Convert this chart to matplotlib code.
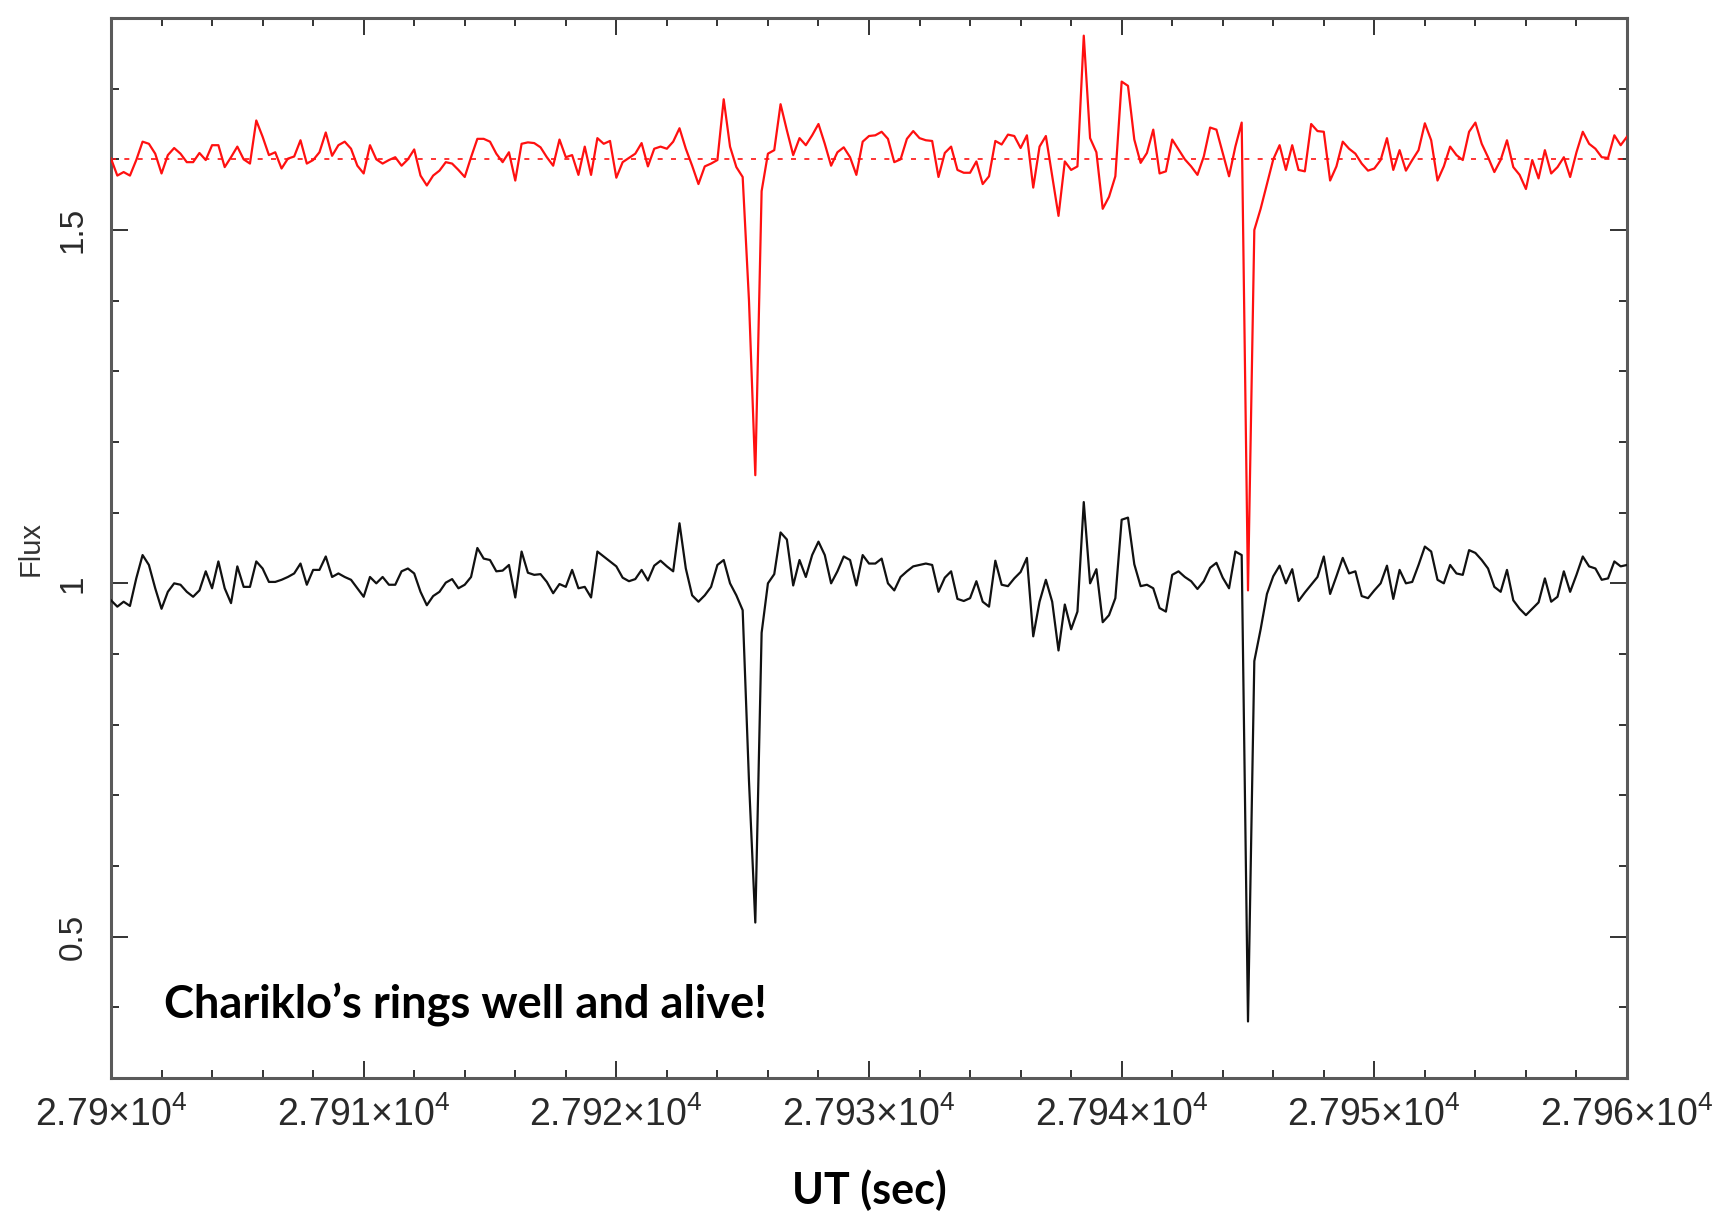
import numpy as np
import matplotlib
matplotlib.use("Agg")
import matplotlib.pyplot as plt
from matplotlib.ticker import MultipleLocator, FuncFormatter

# ---------------- data ----------------
t_start = 27900.0      # UT (s) of first sample
cadence = 0.25         # s between samples

flux_black = [
    0.976, 0.967, 0.974, 0.968, 1.007, 1.040, 1.026, 0.993, 0.964, 0.988,
    1.000, 0.998, 0.988, 0.981, 0.990, 1.017, 0.993, 1.031, 0.993, 0.972,
    1.024, 0.995, 0.995, 1.031, 1.021, 1.002, 1.002, 1.005, 1.009, 1.014,
    1.028, 0.998, 1.019, 1.019, 1.038, 1.009, 1.014, 1.009, 1.005, 0.993,
    0.981, 1.009, 1.000, 1.009, 0.998, 0.998, 1.017, 1.021, 1.014, 0.988,
    0.969, 0.982, 0.988, 1.001, 1.006, 0.993, 0.998, 1.009, 1.050, 1.035,
    1.033, 1.017, 1.018, 1.026, 0.980, 1.045, 1.015, 1.012, 1.013, 1.002,
    0.986, 0.999, 0.995, 1.019, 0.993, 0.995, 0.980, 1.045, 1.038, 1.031,
    1.024, 1.008, 1.003, 1.006, 1.019, 1.004, 1.025, 1.032, 1.024, 1.017,
    1.085, 1.021, 0.983, 0.974, 0.983, 0.995, 1.026, 1.033, 1.000, 0.983,
    0.962, 0.720, 0.520, 0.930, 1.000, 1.013, 1.072, 1.062, 0.997, 1.033,
    1.009, 1.040, 1.059, 1.040, 1.000, 1.017, 1.038, 1.033, 0.997, 1.040,
    1.028, 1.028, 1.035, 1.000, 0.990, 1.009, 1.017, 1.024, 1.026, 1.028,
    1.026, 0.988, 1.008, 1.017, 0.978, 0.975, 0.979, 1.003, 0.974, 0.967,
    1.032, 0.998, 0.996, 1.007, 1.016, 1.036, 0.925, 0.974, 1.005, 0.974,
    0.905, 0.970, 0.935, 0.960, 1.115, 1.000, 1.020, 0.945, 0.955, 0.979,
    1.090, 1.093, 1.027, 0.996, 0.998, 0.993, 0.965, 0.960, 1.012, 1.017,
    1.009, 1.003, 0.992, 1.003, 1.022, 1.029, 1.008, 0.993, 1.045, 1.040,
    0.380, 0.890, 0.935, 0.985, 1.010, 1.025, 1.000, 1.020, 0.975, 0.987,
    0.998, 1.009, 1.038, 0.985, 1.010, 1.036, 1.014, 1.017, 0.982, 0.979,
    0.990, 1.000, 1.025, 0.978, 1.019, 1.000, 1.002, 1.026, 1.052, 1.045,
    1.005, 1.000, 1.026, 1.014, 1.012, 1.047, 1.043, 1.033, 1.021, 0.995,
    0.988, 1.019, 0.976, 0.964, 0.955, 0.964, 0.973, 1.007, 0.974, 0.981,
    1.017, 0.988, 1.012, 1.038, 1.024, 1.021, 1.005, 1.007, 1.031, 1.024,
    1.026,
]

flux_red = [
    1.601, 1.577, 1.582, 1.577, 1.599, 1.625, 1.622, 1.608, 1.580, 1.606,
    1.616, 1.608, 1.596, 1.596, 1.609, 1.599, 1.620, 1.620, 1.589, 1.603,
    1.618, 1.600, 1.594, 1.655, 1.632, 1.606, 1.610, 1.587, 1.601, 1.604,
    1.627, 1.594, 1.599, 1.610, 1.638, 1.605, 1.620, 1.625, 1.615, 1.591,
    1.580, 1.620, 1.600, 1.594, 1.599, 1.603, 1.591, 1.600, 1.614, 1.577,
    1.563, 1.577, 1.584, 1.596, 1.594, 1.585, 1.575, 1.603, 1.629, 1.629,
    1.625, 1.608, 1.596, 1.610, 1.570, 1.622, 1.624, 1.623, 1.617, 1.603,
    1.591, 1.628, 1.603, 1.606, 1.578, 1.618, 1.578, 1.630, 1.622, 1.626,
    1.574, 1.596, 1.602, 1.608, 1.623, 1.590, 1.615, 1.618, 1.615, 1.625,
    1.644, 1.615, 1.591, 1.565, 1.590, 1.594, 1.599, 1.685, 1.618, 1.589,
    1.575, 1.400, 1.153, 1.555, 1.608, 1.613, 1.678, 1.641, 1.606, 1.630,
    1.620, 1.634, 1.650, 1.622, 1.591, 1.610, 1.617, 1.603, 1.578, 1.625,
    1.633, 1.634, 1.639, 1.629, 1.596, 1.600, 1.629, 1.640, 1.630, 1.627,
    1.626, 1.575, 1.609, 1.618, 1.585, 1.581, 1.581, 1.597, 1.565, 1.576,
    1.626, 1.621, 1.635, 1.633, 1.616, 1.634, 1.560, 1.618, 1.633, 1.576,
    1.520, 1.597, 1.585, 1.590, 1.775, 1.630, 1.610, 1.530, 1.547, 1.576,
    1.710, 1.704, 1.628, 1.595, 1.609, 1.642, 1.580, 1.583, 1.628, 1.614,
    1.600, 1.590, 1.578, 1.604, 1.645, 1.642, 1.609, 1.576, 1.618, 1.652,
    0.990, 1.500, 1.530, 1.565, 1.600, 1.620, 1.585, 1.620, 1.585, 1.583,
    1.650, 1.640, 1.639, 1.570, 1.590, 1.625, 1.615, 1.608, 1.594, 1.584,
    1.587, 1.599, 1.630, 1.585, 1.613, 1.584, 1.599, 1.613, 1.651, 1.627,
    1.570, 1.590, 1.618, 1.606, 1.599, 1.639, 1.652, 1.622, 1.603, 1.582,
    1.599, 1.627, 1.589, 1.578, 1.558, 1.599, 1.573, 1.613, 1.580, 1.589,
    1.603, 1.575, 1.610, 1.639, 1.622, 1.615, 1.603, 1.602, 1.634, 1.620,
    1.632,
]

red_baseline = 1.6
x_major_ticks = [27900, 27910, 27920, 27930, 27940, 27950, 27960]
y_major_ticks = [0.5, 1.0, 1.5]
annotation = "Chariklo\u2019s rings well and alive!"
x_label = "UT (sec)"
y_label = "Flux"

ut_black = t_start + cadence * np.arange(len(flux_black))
ut_red = t_start + cadence * np.arange(len(flux_red))

# ---------------- figure ----------------
plt.rcParams['font.family'] = ['Liberation Sans', 'DejaVu Sans']
plt.rcParams['mathtext.fontset'] = 'custom'
plt.rcParams['mathtext.rm'] = 'Liberation Sans'

W, H = 1721, 1225
fig = plt.figure(figsize=(W / 100, H / 100), dpi=100)
ax = fig.add_axes([111 / W, 1 - 1078 / H, (1627 - 111) / W, (1078 - 18) / H])

ax.plot(ut_black, flux_black, color='#111111', lw=1.6, zorder=3)
ax.plot(ut_red, flux_red, color='#ff1010', lw=1.6, zorder=4)
ax.axhline(red_baseline, color='#ff1010', lw=1.2, ls=(0, (3, 5)), zorder=2)

ax.set_xlim(27900, 27960)
ax.set_ylim(0.3, 1.8)

ax.set_xticks(x_major_ticks)
ax.set_yticks(y_major_ticks)
ax.xaxis.set_minor_locator(MultipleLocator(2))
ax.yaxis.set_minor_locator(MultipleLocator(0.1))
ax.xaxis.set_major_formatter(FuncFormatter(lambda v, p: f"{v / 1e4:g}\u00d710$^{{4}}$"))
ax.yaxis.set_major_formatter(FuncFormatter(lambda v, p: f"{v:g}"))

spine_col = '#5a5a5a'
for s in ax.spines.values():
    s.set_color(spine_col)
    s.set_linewidth(2.2)

ax.tick_params(which='both', direction='in', top=True, right=True,
               color='#333333', width=1.4, labelcolor='#2a2a2a')
ax.tick_params(which='major', length=12)
ax.tick_params(which='minor', length=6)
ax.tick_params(axis='x', pad=13, labelsize=27)
ax.tick_params(axis='y', pad=16, labelrotation=90, labelsize=24)
for lab in ax.get_yticklabels():
    lab.set_va('center')

ax.set_ylabel(y_label, fontsize=21, color='#333333')
ax.yaxis.set_label_coords(-0.0528, 0.5)
ax.yaxis.label.set_va('center')

ax.set_xlabel(x_label, fontsize=31, fontweight='bold', family=['Lato', 'DejaVu Sans'], color='black')
ax.xaxis.set_label_coords(0.5, -0.106)
ax.xaxis.label.set_va('center')

ax.text(27902.1, 0.404, annotation, fontsize=32.5, fontweight='bold',
        family=['Lato', 'DejaVu Sans'], color='black', ha='left', va='center', zorder=5)

fig.savefig('out.png', dpi=100, facecolor='white')
